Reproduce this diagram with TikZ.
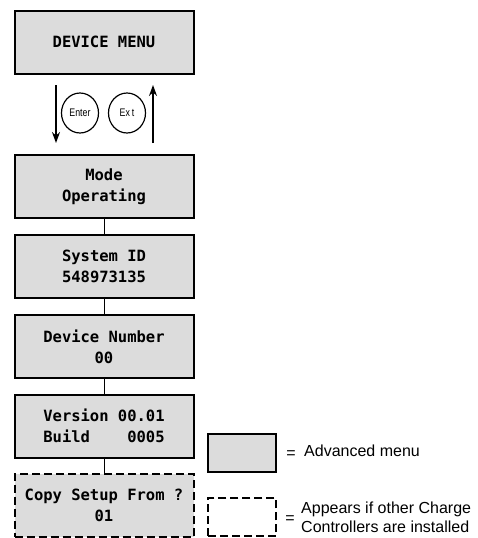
\documentclass[tikz,border=0pt]{standalone}
\usepackage{fontspec}
\setmainfont{Liberation Sans}
\newfontfamily\lcd{DejaVu Sans Mono}
\usetikzlibrary{arrows.meta,shapes.geometric}
\definecolor{boxgray}{HTML}{DCDCDC}
\tikzset{
  menubox/.style={draw=black, line width=2pt, fill=boxgray, minimum width=179pt,
    minimum height=63pt, inner sep=0pt, align=center,
    font=\lcd\bfseries\fontsize{15.5}{21}\selectfont},
  optbox/.style={menubox, dash pattern=on 8pt off 4pt},
  legsolid/.style={draw=black, line width=2pt, fill=boxgray, minimum width=68pt, minimum height=38pt, inner sep=0pt},
  legdash/.style={legsolid, fill=none, dash pattern=on 8pt off 4pt},
  link/.style={draw=black, line width=1pt},
  navarrow/.style={draw=black, line width=1.6pt, -{Stealth[length=11pt,width=8pt]}},
  btn/.style={draw=black, line width=1.2pt, ellipse, minimum width=37pt, minimum height=40pt, inner sep=0pt, font=\fontsize{11}{12}\selectfont},
  legtext/.style={font=\fontsize{16}{19}\selectfont, inner sep=0pt, align=left}
}
\begin{document}
\begin{tikzpicture}[x=1pt,y=-1pt]
\useasboundingbox (0,0) rectangle (477,538);
\node[menubox] (dm) at (104,42) {DEVICE MENU};
\node[menubox] (mode) at (104,186.5) {Mode\\Operating};
\node[menubox] (sid) at (104,266) {System ID\\548973135};
\node[menubox] (dn) at (104,346.5) {Device Number\\00};
\node[menubox] (ver) at (104,426) {Version 00.01\\Build\hphantom{0000}0005};
\node[optbox] (copy) at (104,505) {Copy Setup From ?\\01};
\draw[link] (mode) -- (sid);
\draw[link] (sid) -- (dn);
\draw[link] (dn) -- (ver);
\draw[link] (ver) -- (copy);
% navigation
\node[btn] (enter) at (80,113) {\scalebox{0.8}[1]{Enter}};
\node[btn] (exit) at (127,113) {\scalebox{0.8}[1]{Ex\hspace{2.5pt}t}};
\coordinate (d1) at (56,85);
\coordinate (d2) at (56,143);
\coordinate (u1) at (153,143);
\coordinate (u2) at (153,85);
\draw[navarrow] (d1) -- (d2);
\draw[navarrow] (u1) -- (u2);
% legend
\node[legsolid] (lg1) at (242.3,453.3) {};
\node[legdash] (lg2) at (242.3,517.3) {};
\node[legtext, anchor=center] (eq1) at (291,455) {=};
\node[legtext, anchor=west] (t1) at (304,451) {Advanced menu};
\node[legtext, anchor=center] (eq2) at (290,520) {=};
\node[legtext, anchor=west] (t2) at (301,517.5) {Appears if other Charge\\Controllers are installed};
\end{tikzpicture}
\end{document}
